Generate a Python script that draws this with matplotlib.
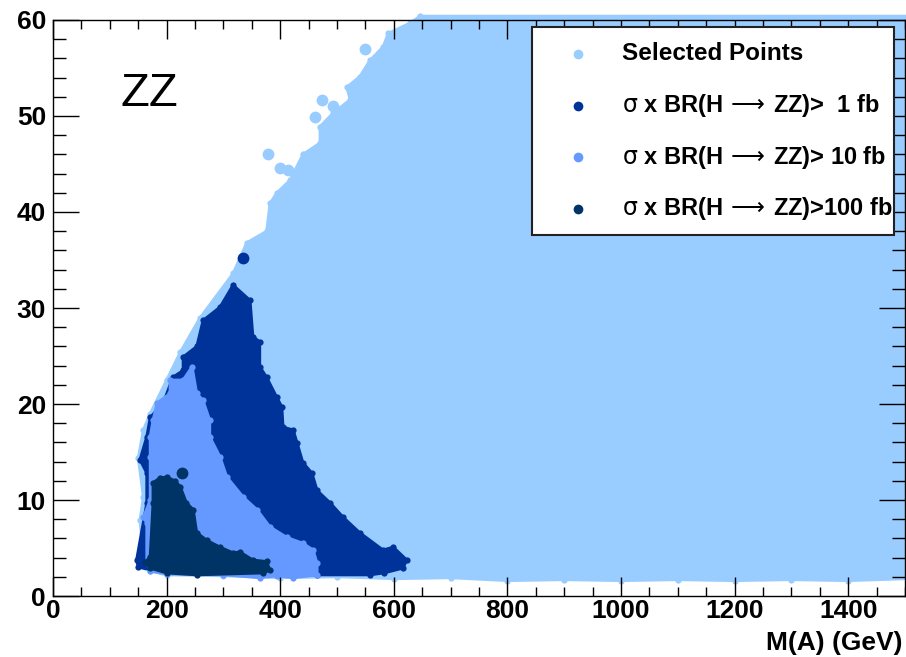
import matplotlib
matplotlib.use("Agg")
import matplotlib.pyplot as plt
from matplotlib.patches import Polygon, Rectangle

plt.rcParams['font.family'] = ['Liberation Sans', 'DejaVu Sans']
plt.rcParams['mathtext.fontset'] = 'dejavusans'

# boundaries of the point clouds (M(A) in GeV, tan beta)
sel_mass = [162, 160, 153, 159, 150, 159, 171, 200, 224, 259, 317, 341, 376, 382,
            394, 417, 440, 470, 470, 493, 523, 517, 540, 558, 581, 590, 629, 646,
            1505, 1505, 1400, 1300, 1200, 1100, 1000, 900, 800, 700, 600, 500,
            400, 300, 200, 170]
sel_tanb = [3.0, 3.4, 7.9, 10.3, 14.4, 17.3, 19.0, 22.5, 25.4, 29.0, 33.6, 36.8,
            38.0, 40.9, 42.0, 43.3, 46.0, 47.2, 48.9, 50.3, 51.7, 53.0, 54.1,
            55.8, 57.2, 58.6, 59.7, 60.4, 60.4, 1.8, 1.6, 1.7, 1.6, 1.7, 1.6,
            1.7, 1.6, 1.9, 1.8, 2.0, 1.9, 2.1, 2.2, 2.6]
sel_iso_mass = [473, 493, 461, 379, 400, 414, 549, 576]
sel_iso_tanb = [51.7, 51.0, 49.9, 46.0, 44.6, 44.4, 57.0, 53.4]

fb1_mass = [150, 147, 165, 165, 153, 165, 171, 194, 211, 229, 229, 253, 264, 294,
            317, 347, 352, 364, 364, 376, 394, 403, 405, 423, 430, 440, 456, 465,
            488, 511, 540, 581, 599, 623, 616, 583, 558, 465, 300, 200]
fb1_tanb = [3.0, 3.75, 9.7, 12.8, 14.2, 16.6, 18.6, 20.1, 22.8, 23.5, 24.9, 26.0,
            28.7, 30.1, 32.4, 30.8, 27.0, 26.5, 23.9, 22.8, 20.7, 19.7, 17.6,
            17.3, 15.9, 13.9, 12.8, 11.0, 9.7, 8.2, 6.6, 4.8, 5.1, 3.75, 2.9,
            2.4, 2.2, 2.2, 2.3, 2.4]
fb1_iso_mass = [335]
fb1_iso_tanb = [35.2]

fb10_mass = [171, 165, 165, 159, 171, 171, 171, 176, 183, 206, 206, 229, 245, 253,
             264, 276, 276, 294, 306, 335, 359, 382, 412, 440, 458, 465, 465, 423,
             394, 364, 300, 200]
fb10_tanb = [2.6, 3.5, 7.6, 8.2, 10.0, 14.5, 16.6, 18.3, 20.1, 21.1, 22.5, 22.5,
             23.9, 21.1, 20.4, 18.3, 16.6, 14.5, 12.4, 10.3, 9.0, 7.2, 6.1, 5.5,
             4.8, 3.4, 2.2, 1.9, 2.1, 1.9, 2.2, 2.3]

fb100_mass = [171, 162, 171, 176, 176, 188, 200, 215, 224, 235, 247, 253, 271, 294,
              317, 329, 352, 376, 382, 370, 253, 200]
fb100_tanb = [2.9, 3.5, 4.1, 9.7, 11.8, 12.3, 12.4, 12.0, 11.4, 9.7, 9.0, 6.6, 5.8,
              5.1, 4.5, 4.6, 3.75, 3.6, 2.7, 2.4, 2.2, 2.4]
fb100_iso_mass = [227]
fb100_iso_tanb = [12.8]

labels = ['Selected Points',
          r'$\mathrm{\sigma}$ x BR(H$\,\longrightarrow\,$ZZ)>  1 fb',
          r'$\mathrm{\sigma}$ x BR(H$\,\longrightarrow\,$ZZ)> 10 fb',
          r'$\mathrm{\sigma}$ x BR(H$\,\longrightarrow\,$ZZ)>100 fb']
colors = ['#99ccff', '#003399', '#6699ff', '#003366']

fig = plt.figure(figsize=(9.06, 6.57), dpi=100)
ax = fig.add_axes([0.0585, 0.0928, 0.9405, 0.8768])

regions = [(sel_mass, sel_tanb, sel_iso_mass, sel_iso_tanb),
           (fb1_mass, fb1_tanb, fb1_iso_mass, fb1_iso_tanb),
           (fb10_mass, fb10_tanb, [], []),
           (fb100_mass, fb100_tanb, fb100_iso_mass, fb100_iso_tanb)]

for i, (mx, ty, imx, ity) in enumerate(regions):
    poly = Polygon(list(zip(mx, ty)), closed=True, facecolor=colors[i],
                   edgecolor=colors[i], lw=2, joinstyle='round', zorder=1 + i * 0.1)
    if i == 0:
        poly.set_clip_on(False)
    ax.add_patch(poly)
    ax.plot(mx, ty, 'o', color=colors[i], ms=4.5, mec='none', zorder=1.05 + i * 0.1,
            clip_on=(i != 0))
    if imx:
        ax.plot(imx, ity, 'o', color=colors[i], ms=8.5, mec='none', zorder=1.05 + i * 0.1)

ax.set_xlim(0, 1500)
ax.set_ylim(0, 60)
ax.set_axisbelow(False)
ax.set_xticks(range(0, 1501, 200))
ax.set_xticks(range(0, 1501, 50), minor=True)
ax.set_yticks(range(0, 61, 10))
ax.set_yticks(range(0, 61, 2), minor=True)
ax.tick_params(which='both', direction='in', top=True, right=True, width=1,
               labelsize=19)
ax.tick_params(axis='x', which='major', length=13.5, pad=2)
ax.tick_params(axis='x', which='minor', length=6.7)
ax.tick_params(axis='y', which='major', length=19, pad=5)
ax.tick_params(axis='y', which='minor', length=9.5)
for lab in ax.get_xticklabels() + ax.get_yticklabels():
    lab.set_fontweight('bold')
for sp in ax.spines.values():
    sp.set_linewidth(1)

fig.text(903 / 906, 0.0107, 'M(A) (GeV)', ha='right', va='baseline',
         fontsize=19, fontweight='bold')

ax.text(0.0798, 0.851, 'ZZ', transform=ax.transAxes, fontsize=34,
        va='baseline', ha='left')

# legend box
ax.add_patch(Rectangle((0.562, 0.627), 0.425, 0.361, transform=ax.transAxes,
                       facecolor='white', edgecolor='#222222', lw=1.5, zorder=5))
ys = [0.941, 0.851, 0.762, 0.672]
sizes = [17.5, 17, 17, 17]
for i in range(4):
    ax.plot([0.616], [ys[i]], 'o', color=colors[i], ms=7, mec='none',
            transform=ax.transAxes, zorder=6)
    ax.text(0.668, ys[i], labels[i], transform=ax.transAxes, fontsize=sizes[i],
            fontweight='bold', va='center', ha='left', zorder=6)

fig.savefig('out.png', dpi=100)
